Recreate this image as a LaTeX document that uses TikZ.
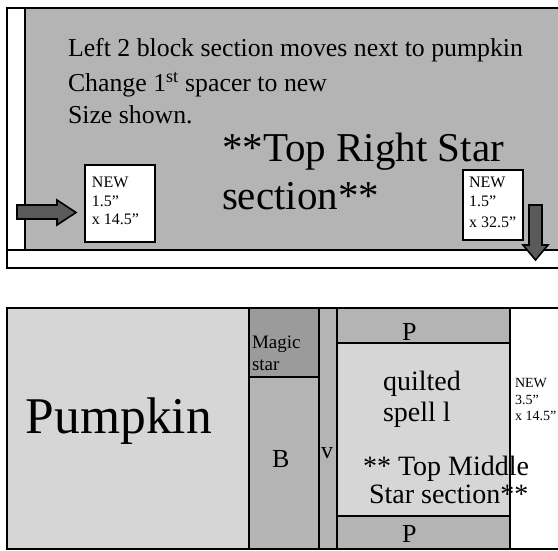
\documentclass[tikz,border=0pt]{standalone}
\usepackage{fontspec}
\setmainfont{Liberation Serif}
\definecolor{gmid}{RGB}{180,180,180}
\definecolor{glight}{RGB}{214,214,214}
\definecolor{gdark}{RGB}{155,155,155}
\definecolor{garrow}{RGB}{90,90,90}
\tikzset{
  frame/.style={draw=black, line width=2.6pt},
  txt/.style={anchor=base west, inner sep=0pt, outer sep=0pt, text=black},
  blockarrow/.style={draw=black, line width=1.6pt, fill=garrow, line join=miter},
}
\newcommand{\fs}[1]{\fontsize{#1}{#1}\selectfont}
\begin{document}
\begin{tikzpicture}[x=1pt,y=-1pt]
\useasboundingbox (0,0) rectangle (558,551);
\clip (0,0) rectangle (558,551);
% ---------- top section ----------
\fill[gmid] (25,8) rectangle (575,250);
\draw[frame] (7,8) rectangle (575,268);
\draw[frame] (25,8) -- (25,250);
\draw[frame] (7,250) -- (575,250);
\node[txt] (t1) at (68,57) {\fs{25.8}Left 2 block section moves next to pumpkin};
\node[txt] (t2) at (68,92) {\fs{25.8}Change 1\textsuperscript{st} spacer to new};
\node[txt] (t3) at (68,124) {\fs{25.8}Size shown.};
\node[txt] (t4) at (222,162) {\fs{41}**Top Right Star};
\node[txt] (t5) at (222,210) {\fs{41}section**};
% left NEW box
\draw[frame, fill=white] (85,165) rectangle (155,242);
\node[txt] (n1) at (92,188) {\fs{16}NEW};
\node[txt] (n2) at (92,207) {\fs{16}1.5”};
\node[txt] (n3) at (92,225) {\fs{16}x 14.5”};
% right NEW box
\draw[frame, fill=white] (463,170) rectangle (523,240);
\node[txt] (m1) at (469,188) {\fs{16}NEW};
\node[txt] (m2) at (469,207) {\fs{16}1.5”};
\node[txt] (m3) at (469,227) {\fs{16}x 32.5”};
% arrows
\draw[blockarrow] (17,205) -- (57,205) -- (57,200) -- (76,212.5) -- (57,225) -- (57,219) -- (17,219) -- cycle;
\draw[blockarrow] (529,205) -- (542,205) -- (542,245) -- (548,245) -- (535.5,260) -- (523,245) -- (529,245) -- cycle;
% ---------- bottom section ----------
\draw[frame, fill=glight] (7,308) rectangle (249,549);
\draw[frame, fill=gdark] (249,308) rectangle (319,377);
\draw[frame, fill=gmid] (249,377) rectangle (319,549);
\draw[frame, fill=gmid] (319,308) rectangle (337,549);
\draw[frame, fill=gmid] (337,308) rectangle (510,343);
\draw[frame, fill=glight] (337,343) rectangle (510,516);
\draw[frame, fill=gmid] (337,516) rectangle (510,549);
\draw[frame, fill=white] (510,308) rectangle (575,549);
\node[txt] (pk) at (26,433) {\fs{51.5}Pumpkin};
\node[txt] (ms1) at (252,348) {\fs{19}Magic};
\node[txt] (ms2) at (252,370) {\fs{19}star};
\node[txt] (bb) at (272,467) {\fs{26}B};
\node[txt] (vv) at (321,458) {\fs{24}v};
\node[txt] (p1) at (402,340) {\fs{26}P};
\node[txt] (p2) at (402,542) {\fs{26}P};
\node[txt] (q1) at (383,390) {\fs{28}quilted};
\node[txt] (q2) at (383,421) {\fs{28}spell l};
\node[txt] (s1) at (363,475) {\fs{28}** Top Middle};
\node[txt] (s2) at (369,503) {\fs{28}Star section**};
\node[txt] (w1) at (515,387) {\fs{14}NEW};
\node[txt] (w2) at (515,404) {\fs{14}3.5”};
\node[txt] (w3) at (515,420) {\fs{14}x 14.5”};
\end{tikzpicture}
\end{document}
